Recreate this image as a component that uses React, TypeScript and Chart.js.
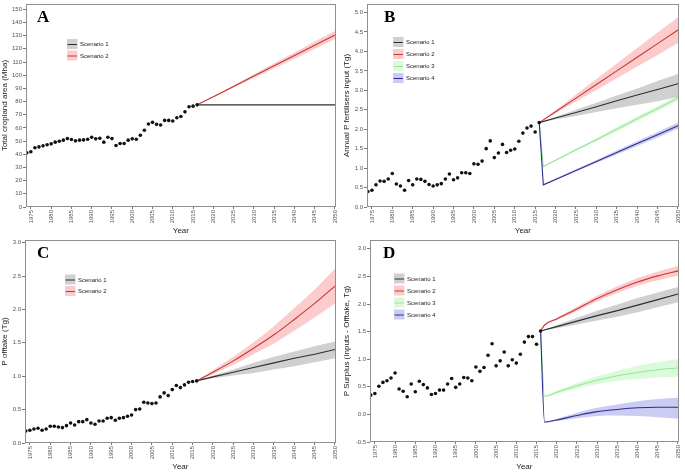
import { useEffect, useRef } from "react";
import { Chart, registerables } from "chart.js";
Chart.register(...registerables);

const FONT = '"Liberation Sans", Arial, sans-serif';

const histYears = [
  1974, 1975, 1976, 1977, 1978, 1979, 1980, 1981, 1982, 1983,
  1984, 1985, 1986, 1987, 1988, 1989, 1990, 1991, 1992, 1993,
  1994, 1995, 1996, 1997, 1998, 1999, 2000, 2001, 2002, 2003,
  2004, 2005, 2006, 2007, 2008, 2009, 2010, 2011, 2012, 2013,
  2014, 2015, 2016,
];
const projYears = [2016, 2020, 2025, 2030, 2035, 2040, 2045, 2050];
const dropYears = [2016, 2017, 2020, 2025, 2030, 2035, 2040, 2045, 2050];
const bandYears = [2017, 2020, 2025, 2030, 2035, 2040, 2045, 2050];
const xTicks = [1975, 1980, 1985, 1990, 1995, 2000, 2005, 2010, 2015, 2020, 2025, 2030, 2035, 2040, 2045, 2050];

// Panel A – cropland area (Mha)
const cropHist = [
  41.1, 41.9, 44.9, 45.6, 46.4, 47.2, 47.9, 49.2, 49.9, 50.7,
  51.9, 51.2, 50.2, 50.7, 50.9, 51.4, 52.9, 51.7, 52.2, 49.2,
  52.9, 51.9, 46.7, 48.2, 48.2, 50.7, 51.7, 51.4, 54.4, 58.2,
  63.0, 64.2, 62.7, 62.2, 65.7, 65.7, 65.2, 67.7, 68.7, 72.2,
  76.0, 76.5, 77.5,
];
const cropS1 = [77.5, 77.5, 77.5, 77.5, 77.5, 77.5, 77.5, 77.5];
const cropS2 = [77.5, 83.7, 91.5, 99.3, 107.1, 114.9, 122.7, 130.5];
const cropS2Lo = [77.5, 83.3, 90.6, 97.9, 105.2, 112.5, 119.9, 127.5];
const cropS2Hi = [77.5, 84.1, 92.4, 100.7, 109.0, 117.3, 125.5, 133.5];
const cropTicksY = [0, 10, 20, 30, 40, 50, 60, 70, 80, 90, 100, 110, 120, 130, 140, 150];

// Panel B – P fertiliser input (Tg)
const fertHist = [
  0.40, 0.43, 0.57, 0.67, 0.66, 0.72, 0.86, 0.59, 0.54, 0.43,
  0.68, 0.57, 0.72, 0.71, 0.66, 0.58, 0.54, 0.57, 0.60, 0.72,
  0.85, 0.70, 0.75, 0.88, 0.88, 0.86, 1.11, 1.10, 1.18, 1.50,
  1.70, 1.27, 1.39, 1.61, 1.40, 1.46, 1.49, 1.69, 1.90, 2.03,
  2.08, 1.93, 2.17,
];
const fertS1 = [2.17, 2.29, 2.43, 2.58, 2.73, 2.88, 3.02, 3.17];
const fertS1Lo = [2.17, 2.25, 2.34, 2.44, 2.54, 2.63, 2.72, 2.83];
const fertS1Hi = [2.17, 2.32, 2.50, 2.68, 2.87, 3.05, 3.24, 3.42];
const fertS2 = [2.17, 2.45, 2.80, 3.15, 3.50, 3.85, 4.20, 4.55];
const fertS2Lo = [2.17, 2.41, 2.71, 3.01, 3.31, 3.61, 3.91, 4.22];
const fertS2Hi = [2.17, 2.49, 2.89, 3.29, 3.69, 4.09, 4.49, 4.88];
const fertS3 = [2.17, 1.04, 1.20, 1.47, 1.73, 2.00, 2.27, 2.53, 2.80];
const fertS3Lo = [1.03, 1.18, 1.44, 1.69, 1.95, 2.21, 2.47, 2.73];
const fertS3Hi = [1.05, 1.22, 1.50, 1.77, 2.05, 2.33, 2.59, 2.87];
const fertS4 = [2.17, 0.57, 0.71, 0.94, 1.17, 1.40, 1.63, 1.86, 2.09];
const fertS4Lo = [0.56, 0.69, 0.91, 1.13, 1.35, 1.57, 1.79, 2.01];
const fertS4Hi = [0.58, 0.73, 0.97, 1.21, 1.45, 1.69, 1.93, 2.17];
const fertTicksY = [0, 0.5, 1, 1.5, 2, 2.5, 3, 3.5, 4, 4.5, 5];

// Panel C – P offtake (Tg)
const offHist = [
  0.18, 0.19, 0.21, 0.22, 0.19, 0.21, 0.25, 0.25, 0.24, 0.23,
  0.26, 0.30, 0.27, 0.32, 0.32, 0.35, 0.30, 0.28, 0.33, 0.33,
  0.37, 0.38, 0.34, 0.37, 0.38, 0.40, 0.42, 0.50, 0.51, 0.61,
  0.60, 0.59, 0.60, 0.69, 0.75, 0.71, 0.80, 0.86, 0.83, 0.87,
  0.91, 0.92, 0.93,
];
const offS1 = [0.93, 0.99, 1.06, 1.13, 1.20, 1.27, 1.33, 1.40];
const offS1Lo = [0.93, 0.97, 1.01, 1.05, 1.10, 1.15, 1.21, 1.27];
const offS1Hi = [0.93, 1.01, 1.10, 1.20, 1.29, 1.37, 1.45, 1.52];
const offS2 = [0.93, 1.06, 1.23, 1.42, 1.62, 1.85, 2.09, 2.35];
const offS2Lo = [0.93, 1.03, 1.17, 1.33, 1.49, 1.68, 1.88, 2.09];
const offS2Hi = [0.93, 1.09, 1.29, 1.51, 1.75, 2.02, 2.30, 2.61];
const offTicksY = [0, 0.5, 1, 1.5, 2, 2.5, 3];

// Panel D – P surplus (Tg)
const surHist = [
  0.35, 0.38, 0.51, 0.58, 0.61, 0.66, 0.75, 0.46, 0.42, 0.32,
  0.55, 0.41, 0.60, 0.54, 0.48, 0.36, 0.38, 0.44, 0.44, 0.55,
  0.65, 0.49, 0.55, 0.67, 0.66, 0.61, 0.86, 0.78, 0.85, 1.07,
  1.28, 0.88, 0.97, 1.13, 0.88, 0.99, 0.93, 1.09, 1.31, 1.41,
  1.41, 1.27, 1.51,
];
const surS1 = [1.51, 1.59, 1.69, 1.79, 1.88, 1.98, 2.08, 2.18];
const surS1Lo = [1.51, 1.56, 1.63, 1.70, 1.77, 1.85, 1.94, 2.03];
const surS1Hi = [1.51, 1.62, 1.75, 1.88, 1.99, 2.11, 2.21, 2.31];
const surS2 = [1.51, 1.62, 1.73, 1.91, 2.10, 2.26, 2.40, 2.51, 2.60];
const surS2Lo = [1.51, 1.61, 1.71, 1.87, 2.05, 2.20, 2.33, 2.43, 2.51];
const surS2Hi = [1.51, 1.63, 1.75, 1.95, 2.15, 2.32, 2.47, 2.59, 2.69];
const surS3 = [1.51, 0.33, 0.40, 0.52, 0.62, 0.70, 0.76, 0.81, 0.84];
const surS3Lo = [0.32, 0.37, 0.47, 0.55, 0.61, 0.64, 0.67, 0.68];
const surS3Hi = [0.34, 0.43, 0.57, 0.69, 0.79, 0.88, 0.95, 1.00];
const surS4 = [1.51, -0.14, -0.10, -0.02, 0.05, 0.09, 0.12, 0.13, 0.13];
const surS4Lo = [-0.14, -0.12, -0.07, -0.03, -0.02, -0.03, -0.05, -0.08];
const surS4Hi = [-0.14, -0.08, 0.03, 0.12, 0.18, 0.24, 0.28, 0.30];
const surTicksY = [-0.5, 0, 0.5, 1, 1.5, 2, 2.5, 3];

const scenarioNames = ["Scenario 1", "Scenario 2", "Scenario 3", "Scenario 4"];
const LINE = ["#2e2e2e", "rgb(200,55,55)", "rgb(150,232,150)", "rgb(45,45,145)"];
const BAND = ["rgba(150,150,150,0.45)", "rgba(248,118,118,0.38)", "rgba(144,238,144,0.32)", "rgba(110,110,220,0.35)"];

type Line = { s: number; xs: number[]; ys: number[]; curve?: boolean };
type Band = { s: number; xs: number[]; lo: number[]; hi: number[] };
type Spec = {
  letter: string; yTitle: string; yMin: number; yMax: number; yTicks: number[]; dec: number;
  hist: number[]; lines: Line[]; bands: Band[]; nLegend: number;
  left: number; top: number; w: number; h: number; yW: number; xH: number; padR: number;
  letX: number; letY: number; legX: number; legY: number; legSp: number;
};

const pts = (xs: number[], ys: number[]) => xs.map((x, i) => ({ x, y: ys[i] }));

const specs: Spec[] = [
  {
    letter: "A", yTitle: "Total cropland area (Mha)", yMin: 0, yMax: 154, yTicks: cropTicksY, dec: 0,
    hist: cropHist,
    lines: [{ s: 0, xs: projYears, ys: cropS1 }, { s: 1, xs: projYears, ys: cropS2 }],
    bands: [{ s: 1, xs: projYears, lo: cropS2Lo, hi: cropS2Hi }],
    nLegend: 2, left: 0, top: 0, w: 342, h: 236, yW: 26, xH: 29, padR: 3.5,
    letX: 11, letY: 18, legX: 41, legY: 40, legSp: 11.5,
  },
  {
    letter: "B", yTitle: "Annual P fertilisers input (Tg)", yMin: 0, yMax: 5.22, yTicks: fertTicksY, dec: 1,
    hist: fertHist,
    lines: [
      { s: 0, xs: projYears, ys: fertS1 }, { s: 1, xs: projYears, ys: fertS2 },
      { s: 2, xs: dropYears, ys: fertS3 }, { s: 3, xs: dropYears, ys: fertS4 },
    ],
    bands: [
      { s: 0, xs: projYears, lo: fertS1Lo, hi: fertS1Hi }, { s: 1, xs: projYears, lo: fertS2Lo, hi: fertS2Hi },
      { s: 2, xs: bandYears, lo: fertS3Lo, hi: fertS3Hi }, { s: 3, xs: bandYears, lo: fertS4Lo, hi: fertS4Hi },
    ],
    nLegend: 4, left: 342, top: 0, w: 343, h: 236, yW: 25, xH: 29, padR: 2.5,
    letX: 17, letY: 18, legX: 26, legY: 38, legSp: 12,
  },
  {
    letter: "C", yTitle: "P offtake (Tg)", yMin: 0, yMax: 3.04, yTicks: offTicksY, dec: 1,
    hist: offHist,
    lines: [{ s: 0, xs: projYears, ys: offS1 }, { s: 1, xs: projYears, ys: offS2, curve: true }],
    bands: [{ s: 0, xs: projYears, lo: offS1Lo, hi: offS1Hi }, { s: 1, xs: projYears, lo: offS2Lo, hi: offS2Hi }],
    nLegend: 2, left: 0, top: 236, w: 342, h: 236, yW: 25, xH: 29, padR: 3.5,
    letX: 12, letY: 18, legX: 40, legY: 39.5, legSp: 11.5,
  },
  {
    letter: "D", yTitle: "P Surplus (Inputs - Offtake, Tg)", yMin: -0.5, yMax: 3.16, yTicks: surTicksY, dec: 1,
    hist: surHist,
    lines: [
      { s: 0, xs: projYears, ys: surS1 }, { s: 1, xs: dropYears, ys: surS2, curve: true },
      { s: 2, xs: dropYears, ys: surS3, curve: true }, { s: 3, xs: dropYears, ys: surS4, curve: true },
    ],
    bands: [
      { s: 0, xs: projYears, lo: surS1Lo, hi: surS1Hi }, { s: 1, xs: dropYears, lo: surS2Lo, hi: surS2Hi },
      { s: 2, xs: bandYears, lo: surS3Lo, hi: surS3Hi }, { s: 3, xs: bandYears, lo: surS4Lo, hi: surS4Hi },
    ],
    nLegend: 4, left: 342, top: 236, w: 343, h: 236, yW: 28, xH: 30, padR: 2.5,
    letX: 13, letY: 18, legX: 24, legY: 38.5, legSp: 12,
  },
];

function Panel({ spec }: { spec: Spec }) {
  const ref = useRef<HTMLCanvasElement>(null);
  useEffect(() => {
    if (!ref.current) return;
    const datasets: any[] = [];
    datasets.push({
      data: pts(histYears, spec.hist), showLine: false, pointRadius: 1.8, pointHoverRadius: 0,
      pointBackgroundColor: "#111", pointBorderWidth: 0, borderWidth: 0, fill: false,
    });
    [...spec.lines].reverse().forEach((l) => {
      datasets.push({
        data: pts(l.xs, l.ys), borderColor: LINE[l.s], borderWidth: 1.1, pointRadius: 0, fill: false,
        cubicInterpolationMode: l.curve ? "monotone" : "default",
      });
    });
    spec.bands.forEach((b) => {
      const loIdx = datasets.length;
      const curve = spec.lines.find((l) => l.s === b.s)?.curve;
      datasets.push({
        data: pts(b.xs, b.lo), borderWidth: 0, borderColor: "rgba(0,0,0,0)", pointRadius: 0, fill: false,
        cubicInterpolationMode: curve ? "monotone" : "default",
      });
      datasets.push({
        data: pts(b.xs, b.hi), borderWidth: 0, borderColor: "rgba(0,0,0,0)", pointRadius: 0,
        fill: { target: loIdx }, backgroundColor: BAND[b.s],
        cubicInterpolationMode: curve ? "monotone" : "default",
      });
    });

    const deco = {
      id: "deco",
      afterDraw(chart: any) {
        const { ctx, chartArea: a } = chart;
        ctx.save();
        ctx.strokeStyle = "#8f8f8f";
        ctx.lineWidth = 1;
        ctx.strokeRect(Math.round(a.left) + 0.5, Math.round(a.top) + 0.5, Math.round(a.right - a.left) - 1, Math.round(a.bottom - a.top) - 1);
        ctx.fillStyle = "#000";
        ctx.font = 'bold 17px "Liberation Serif", "Times New Roman", serif';
        ctx.textBaseline = "alphabetic";
        ctx.textAlign = "left";
        ctx.fillText(spec.letter, a.left + spec.letX, a.top + spec.letY);
        for (let i = 0; i < spec.nLegend; i++) {
          const cy = a.top + spec.legY + i * spec.legSp;
          const x0 = a.left + spec.legX;
          ctx.fillStyle = BAND[i];
          ctx.fillRect(x0, cy - 5, 10.5, 10);
          ctx.strokeStyle = LINE[i];
          ctx.lineWidth = 1;
          ctx.beginPath();
          ctx.moveTo(x0 + 0.5, cy + 0.5);
          ctx.lineTo(x0 + 10, cy + 0.5);
          ctx.stroke();
          ctx.fillStyle = "#222";
          ctx.font = `6px ${FONT}`;
          ctx.textBaseline = "middle";
          ctx.fillText(scenarioNames[i], x0 + 13, cy + 0.5);
        }
        ctx.restore();
      },
    };

    const tickFont = { size: 6, family: FONT, lineHeight: 1 };
    const chart = new Chart(ref.current, {
      type: "line",
      data: { datasets },
      options: {
        animation: false,
        responsive: false,
        events: [],
        layout: { padding: { left: 0, top: 0, bottom: 0, right: spec.padR } },
        plugins: {
          legend: { display: false },
          tooltip: { enabled: false },
          filler: { drawTime: "beforeDatasetsDraw", propagate: false },
        } as any,
        scales: {
          x: {
            type: "linear", min: 1973.8, max: 2050.2,
            afterBuildTicks: (s: any) => { s.ticks = xTicks.map((v) => ({ value: v })); },
            afterFit: (s: any) => { s.height = spec.xH; },
            ticks: {
              autoSkip: false, minRotation: 90, maxRotation: 90, padding: 1, color: "#555",
              font: tickFont, callback: (v: any) => String(v),
            },
            grid: { display: true, drawOnChartArea: false, drawTicks: true, tickLength: 2, color: "#777" },
            border: { display: false },
            title: { display: true, text: "Year", color: "#222", font: { size: 8, family: FONT }, padding: { top: 0, bottom: 0 } },
          },
          y: {
            type: "linear", min: spec.yMin, max: spec.yMax,
            afterBuildTicks: (s: any) => { s.ticks = spec.yTicks.map((v) => ({ value: v })); },
            afterFit: (s: any) => { s.width = spec.yW; },
            ticks: {
              padding: 1, color: "#555", font: tickFont,
              callback: (v: any) => Number(v).toFixed(spec.dec),
            },
            grid: { display: true, drawOnChartArea: false, drawTicks: true, tickLength: 3, color: "#777" },
            border: { display: false },
            title: { display: true, text: spec.yTitle, color: "#222", font: { size: 8, family: FONT }, padding: { top: 0, bottom: 0 } },
          },
        },
      } as any,
      plugins: [deco],
    });
    return () => chart.destroy();
  }, [spec]);
  return (
    <canvas
      ref={ref}
      width={spec.w}
      height={spec.h}
      style={{ position: "absolute", left: spec.left, top: spec.top, width: spec.w, height: spec.h }}
    />
  );
}

export default function App() {
  return (
    <div style={{ position: "absolute", left: 0, top: 0, width: 685, height: 472, background: "#fff" }}>
      {specs.map((s) => (
        <Panel key={s.letter} spec={s} />
      ))}
    </div>
  );
}
